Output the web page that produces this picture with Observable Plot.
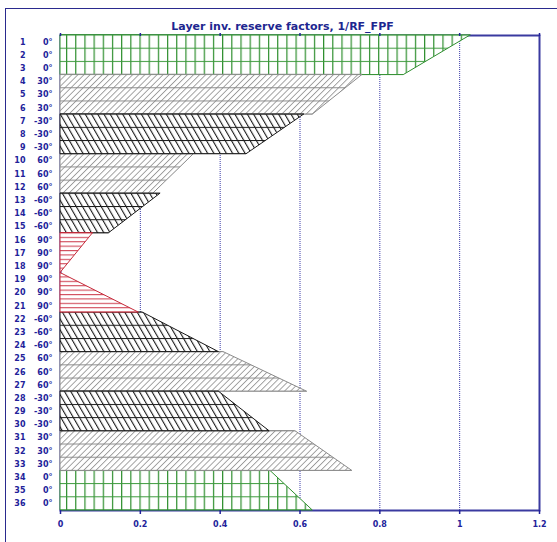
<!DOCTYPE html>
<html><head><meta charset="utf-8">
<script src="https://cdn.jsdelivr.net/npm/d3@7"></script>
<script src="https://cdn.jsdelivr.net/npm/@observablehq/plot@0.6"></script>
<style>
html,body{margin:0;padding:0;background:#fff;overflow:hidden;}
#wrap{position:relative;width:557px;height:542px;}
#border{position:absolute;left:5px;top:8px;width:700px;height:700px;border-left:1.6px solid #2a2a8e;border-top:1.6px solid #2a2a8e;pointer-events:none;}
</style></head><body>
<div id="wrap"><div id="chart"></div><div id="border"></div></div>
<script>
const title = "Layer inv. reserve factors, 1/RF_FPF";
const layerNumbers = [1,2,3,4,5,6,7,8,9,10,11,12,13,14,15,16,17,18,19,20,21,22,23,24,25,26,27,28,29,30,31,32,33,34,35,36];
const layerAngles = [0,0,0,30,30,30,-30,-30,-30,60,60,60,-60,-60,-60,90,90,90,90,90,90,-60,-60,-60,60,60,60,-30,-30,-30,30,30,30,0,0,0];
const xTicks = [0, 0.2, 0.4, 0.6, 0.8, 1, 1.2];
const gridValues = [0.2, 0.4, 0.6, 0.8, 1];

// ply blocks and the inverse reserve factor read at block boundaries (depth = layer boundary index)
const blockAngle   = [0, 30, -30, 60, -60, 90, -60, 60, -30, 30, 0];
const profileBlock = [0,0, 1,1, 2,2, 3,3, 4,4, 5,5,5, 6,6, 7,7, 8,8, 9,9, 10,10];
const profileDepth = [0,3, 3,6, 6,9, 9,12, 12,15, 15,18,21, 21,24, 24,27, 27,30, 30,33, 33,36];
const profileValue = [1.027,0.860, 0.756,0.632, 0.610,0.466, 0.334,0.232, 0.250,0.121, 0.081,0,0.196, 0.206,0.397, 0.409,0.618, 0.397,0.524, 0.589,0.731, 0.526,0.632];

const navy = "#22229a";
const layers = layerNumbers.map((n, i) => ({n, angle: layerAngles[i]}));
const profile = profileDepth.map((depth, i) => ({depth, value: profileValue[i], block: profileBlock[i], angle: blockAngle[profileBlock[i]]}));

const kindOf = a => a === 0 ? "zero" : a === 90 ? "ninety" : a > 0 ? "pos" : "neg";
const kinds = {
  zero:   {fill: "url(#hatchZero)", overlay: null, stroke: "#2f8f2f"},
  pos:    {fill: "url(#hatchPos)", overlay: "url(#linesPos)", stroke: "#8a8a8a"},
  neg:    {fill: "url(#hatchNeg)", overlay: "url(#linesNeg)", stroke: "#1a1a1a"},
  ninety: {fill: "url(#hatchNinety)", overlay: null, stroke: "#c62a3a"}
};
const areaMarks = Object.entries(kinds).flatMap(([k, s]) => {
  const data = profile.filter(d => kindOf(d.angle) === k);
  const m = [Plot.areaX(data, {y: "depth", x1: 0, x2: "value", z: "block", fill: s.fill, stroke: s.stroke, strokeWidth: 1})];
  if (s.overlay) m.push(Plot.areaX(data, {y: "depth", x1: 0, x2: "value", z: "block", fill: s.overlay}));
  return m;
});

const svg = Plot.plot({
  width: 557, height: 542,
  marginLeft: 60, marginRight: 18, marginTop: 35, marginBottom: 32,
  style: {fontFamily: "'DejaVu Sans', Verdana, sans-serif", fontWeight: "bold", color: navy, overflow: "visible"},
  x: {domain: [0, 1.2], label: null},
  y: {domain: [0, 36], reverse: true, axis: null, label: null},
  marks: [
    Plot.ruleX(gridValues, {stroke: "#3a3aa8", strokeDasharray: "1,1", strokeWidth: 1}),
    Plot.frame({stroke: "#3a3aa0", strokeWidth: 2}),
    ...areaMarks,
    Plot.axisX({anchor: "bottom", ticks: xTicks, tickSize: 4, tickPadding: 7, fontSize: 8, tickFormat: d => String(d), label: null, strokeWidth: 1.5}),
    Plot.axisX({anchor: "top", ticks: xTicks, tickSize: 3, tickFormat: () => "", label: null, strokeWidth: 1.5}),
    Plot.text(layers, {frameAnchor: "left", y: d => d.n - 0.5, text: d => String(d.n), dx: -35, textAnchor: "end", fontSize: 8, fill: navy}),
    Plot.text(layers, {frameAnchor: "left", y: d => d.n - 0.5, text: d => d.angle + "°", dx: -8, textAnchor: "end", fontSize: 8, fill: navy}),
    Plot.text([title], {frameAnchor: "top", lineAnchor: "middle", dx: -17.5, dy: -9, fontSize: 11, fill: "#1d2690"})
  ]
});

const yS = svg.scale("y"), xS = svg.scale("x");
const top0 = yS.apply(0), layerH = yS.apply(1) - yS.apply(0), left0 = xS.apply(0);
const defs = d3.select(svg).append("defs");
function pattern(id, w, h, attrs) {
  const p = defs.append("pattern").attr("id", id).attr("patternUnits", "userSpaceOnUse").attr("width", w).attr("height", h);
  for (const [k, v] of Object.entries(attrs || {})) p.attr(k, v);
  return p;
}
// 0° : green grid (vertical hatch + layer boundaries)
{
  const w = 9.18;
  const p = pattern("hatchZero", w, layerH, {x: left0 + 6, y: top0 - 0.5});
  p.append("rect").attr("width", w).attr("height", layerH).attr("fill", "white");
  p.append("rect").attr("width", 1.2).attr("height", layerH).attr("fill", "#2f8f2f");
  p.append("rect").attr("width", w).attr("height", 1).attr("fill", "#3c9a3c");
}
// 90° : red horizontal lines
{
  const h = layerH / 3;
  const p = pattern("hatchNinety", 10, h, {x: 0, y: top0 - 0.5});
  p.append("rect").attr("width", 10).attr("height", h).attr("fill", "white");
  p.append("rect").attr("width", 10).attr("height", 1.1).attr("fill", "#d04858");
}
// positive angles: grey "/"
{
  const w = 4.3;
  const p = pattern("hatchPos", w, 10, {patternTransform: "rotate(45)"});
  p.append("rect").attr("width", w).attr("height", 10).attr("fill", "white");
  p.append("rect").attr("width", 0.9).attr("height", 10).attr("fill", "#9a9a9a");
}
// negative angles: black "\"
{
  const w = 5.4;
  const p = pattern("hatchNeg", w, 10, {patternTransform: "rotate(-30)"});
  p.append("rect").attr("width", w).attr("height", 10).attr("fill", "white");
  p.append("rect").attr("width", 1.1).attr("height", 10).attr("fill", "#1a1a1a");
}
for (const [id, col] of [["linesPos", "#8a8a8a"], ["linesNeg", "#1a1a1a"]]) {
  const p = pattern(id, 20, layerH, {x: 0, y: top0 - 0.5});
  p.append("rect").attr("width", 20).attr("height", 1).attr("fill", col);
}

document.getElementById("chart").appendChild(svg);
</script>
</body></html>
